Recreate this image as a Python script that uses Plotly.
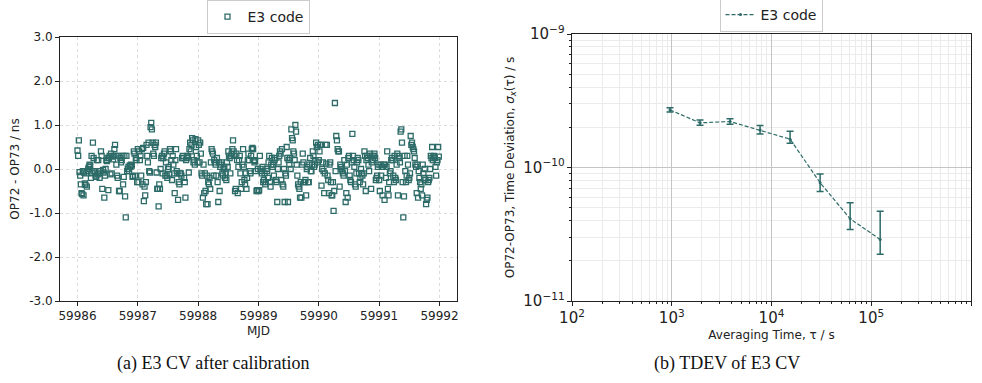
import plotly.graph_objects as go

# ---------------- data ----------------
days = [59986, 59987, 59988, 59989, 59990, 59991]
tracks_per_day = 90  # one CV track every 16 min

cv_day0 = [0.42, 0.30, 0.65, -0.07, -0.15, -0.35, -0.55, -0.57, -0.05, -0.60,
           -0.08, -0.33, -0.36, -0.10, -0.40, -0.05, 0.00, 0.05, 0.10, 0.08,
           -0.20, 0.30, -0.10, 0.60, 0.25, -0.05, -0.08, -0.15, -0.18, 0.20,
           -0.12, 0.20, -0.10, -0.20, -0.05, 0.40, 0.30, -0.45, -0.02, -0.08,
           -0.65, -0.15, 0.00, 0.20, 0.18, 0.25, -0.48, 0.25, 0.30, -0.12,
           0.35, -0.10, 0.28, 0.22, 0.30, 0.45, 0.55, 0.30, 0.10, -0.15,
           -0.20, 0.30, -0.50, -0.50, 0.25, 0.15, 0.20, 0.30, -0.35, -0.18,
           0.30, -0.62, -1.10, 0.30, -0.05, 0.00, 0.05, -0.05, 0.08, 0.05,
           0.10, 0.08, -0.18, -0.16, 0.40, 0.35, -0.15, 0.25, 0.20, -0.30]
cv_day1 = [0.45, -0.30, 0.40, 0.20, 0.30, -0.15, 0.45, -0.35, 0.48, -0.73,
           -0.40, -0.60, -0.30, 0.55, 0.30, 0.15, 0.60, -0.05, -0.08, 0.95,
           1.05, 0.90, 0.60, 0.35, 0.30, 0.55, 0.50, 0.60, -0.08, -0.45,
           -0.45, -0.85, -0.35, -0.45, 0.00, 0.25, 0.30, -0.10, 0.25, 0.35,
           0.40, -0.15, 0.15, -0.15, -0.20, 0.00, 0.05, -0.12, 0.45, 0.40,
           0.20, -0.25, 0.30, 0.10, -0.10, -0.55, 0.20, 0.45, -0.05, -0.10,
           -0.70, -0.30, -0.35, -0.10, -0.10, -0.15, 0.25, 0.30, 0.25, -0.20,
           -0.30, -0.65, 0.20, 0.25, 0.30, 0.28, -0.08, 0.45, 0.60, 0.40,
           0.55, 0.70, 0.65, 0.15, 0.20, 0.10, 0.68, 0.50, 0.30, 0.15]
cv_day2 = [0.65, 0.55, 0.15, 0.60, 0.35, -0.10, -0.15, -0.65, 0.10, -0.55,
           -0.10, -0.50, -0.80, -0.15, -0.80, -0.30, -0.35, -0.20, -0.45, 0.15,
           0.45, 0.40, 0.35, -0.15, 0.20, 0.15, 0.10, -0.15, 0.25, -0.30,
           -0.75, 0.15, -0.50, 0.05, 0.10, 0.15, -0.10, -0.15, 0.00, 0.05,
           -0.20, -0.10, -0.25, 0.15, 0.05, 0.40, 0.30, 0.25, -0.10, 0.30,
           0.35, 0.45, 0.65, 0.40, 0.30, -0.50, -0.45, 0.35, 0.20, -0.55,
           0.05, 0.20, 0.30, -0.10, -0.45, -0.30, 0.10, 0.45, 0.05, -0.25,
           -0.35, -0.10, -0.45, -0.20, 0.20, 0.35, 0.20, -0.05, -0.10, 0.30,
           0.45, 0.48, 0.45, 0.20, 0.15, 0.18, -0.05, -0.50, -0.48, 0.00]
cv_day3 = [-0.50, -0.48, 0.30, 0.00, -0.05, -0.10, 0.05, -0.30, -0.25, -0.10,
           -0.35, -0.30, 0.00, -0.05, -0.20, 0.15, 0.30, -0.30, -0.40, 0.10,
           0.25, 0.05, 0.10, -0.15, 0.20, 0.25, -0.25, -0.30, -0.75, 0.00,
           0.15, 0.30, 0.40, 0.35, -0.25, 0.45, -0.35, -0.40, 0.00, -0.75,
           -0.10, -0.15, 0.50, 0.25, -0.75, 0.20, 0.10, 0.25, 0.00, 0.90,
           0.70, 0.65, 0.40, 0.35, 0.20, 1.00, 0.85, 0.10, -0.15, -0.35,
           -0.40, -0.45, -0.65, -0.30, -0.65, 0.10, 0.35, 0.15, -0.30, -0.30,
           -0.25, -0.60, 0.00, 0.05, -0.30, -0.30, 0.10, 0.25, -0.05, -0.05,
           0.10, 0.40, 0.30, 0.05, 0.10, 0.20, 0.60, 0.50, 0.15, 0.55]
cv_day4 = [0.20, 0.40, 0.55, 0.55, -0.38, 0.00, 0.15, -0.05, -0.55, -0.10,
           0.55, 0.12, 0.55, -0.15, -0.25, -0.55, 0.10, 0.15, -0.30, -0.60,
           -0.60, -0.30, -0.95, -0.50, 1.50, -0.05, 0.75, 0.65, 0.45, 0.40,
           0.40, -0.40, 0.10, 0.05, 0.00, -0.05, -0.10, -0.15, 0.20, -0.05,
           -0.75, -0.55, 0.10, -0.65, 0.25, 0.30, -0.15, -0.25, -0.30, 0.15,
           0.80, 0.30, 0.20, 0.05, -0.35, -0.40, -0.10, 0.15, 0.25, 0.20,
           -0.10, -0.30, -0.20, 0.00, -0.10, -0.15, -0.35, -0.10, 0.40, 0.30,
           -0.50, 0.20, 0.30, 0.25, 0.10, -0.05, 0.35, 0.30, -0.45, 0.15,
           0.30, 0.20, 0.30, 0.35, 0.25, -0.25, -0.20, -0.15, 0.05, 0.10]
cv_day5 = [-0.25, -0.50, 0.10, -0.15, 0.05, -0.60, 0.05, 0.10, -0.70, 0.10,
           -0.20, 0.05, 0.40, -0.45, -0.60, -0.30, -0.10, -0.05, 0.20, 0.25,
           0.20, -0.15, -0.30, 0.30, -0.20, -0.25, 0.10, 0.35, -0.60, 0.30,
           0.25, 0.15, 0.85, 0.90, 0.60, -0.30, -1.10, -0.62, 0.30, -0.05,
           -0.30, -0.15, 0.30, 0.10, -0.25, -0.20, -0.10, 0.75, 0.55, 0.60,
           0.50, 0.45, 0.40, 0.25, 0.10, 0.05, -0.55, 0.10, -0.65, -0.05,
           -0.20, -0.30, -0.45, -0.35, -0.60, 0.10, -0.10, -0.20, 0.00, -0.25,
           -0.80, -0.70, -0.65, -0.30, -0.25, -0.20, 0.00, 0.30, 0.25, 0.50,
           0.20, 0.28, 0.30, 0.25, 0.05, -0.15, 0.15, 0.20, 0.50, 0.28]
cv_by_day = [cv_day0, cv_day1, cv_day2, cv_day3, cv_day4, cv_day5]

mjd_ticks = [59986, 59987, 59988, 59989, 59990, 59991, 59992]
ns_ticks = [-3.0, -2.0, -1.0, 0.0, 1.0, 2.0, 3.0]
ns_tick_labels = ["-3.0", "-2.0", "-1.0", "0.0", "1.0", "2.0", "3.0"]

tau_s = [960, 1920, 3840, 7680, 15360, 30720, 61440, 122880]
tdev_s = [2.70e-10, 2.16e-10, 2.21e-10, 1.91e-10, 1.63e-10, 7.69e-11, 4.13e-11, 2.89e-11]
tdev_hi = [2.80e-10, 2.27e-10, 2.32e-10, 2.06e-10, 1.87e-10, 8.93e-11, 5.45e-11, 4.71e-11]
tdev_lo = [2.60e-10, 2.07e-10, 2.11e-10, 1.78e-10, 1.52e-10, 6.62e-11, 3.43e-11, 2.24e-11]

# ---------------- build ----------------
mjd, cv = [], []
for d, vals in zip(days, cv_by_day):
    for i, v in enumerate(vals):
        mjd.append(d + i / tracks_per_day)
        cv.append(v)

teal = "#2d6b68"
FONT = "DejaVu Sans"

fig = go.Figure()
fig.add_trace(go.Scatter(
    x=mjd, y=cv, mode="markers", name="E3 code",
    marker=dict(symbol="square-open", size=5, color=teal, line=dict(width=1.3, color=teal)),
    xaxis="x", yaxis="y", legend="legend", showlegend=True))

fig.add_trace(go.Scatter(
    x=tau_s, y=tdev_s, mode="lines+markers", name="E3 code",
    line=dict(color=teal, width=1.2, dash="4px,2px"),
    marker=dict(size=3, color=teal),
    error_y=dict(type="data", symmetric=False,
                 array=[h - v for h, v in zip(tdev_hi, tdev_s)],
                 arrayminus=[v - l for l, v in zip(tdev_lo, tdev_s)],
                 color=teal, thickness=1.5, width=3.5),
    xaxis="x2", yaxis="y2", legend="legend2", showlegend=True))

W, H = 982, 383
def px_x(p): return p / W
def px_y(p): return (H - p) / H

axis_common = dict(showline=True, mirror=True, linecolor="#222", linewidth=1,
                   ticks="outside", ticklen=4, tickcolor="#222", automargin=False,
                   tickfont=dict(family=FONT, size=12, color="#222"), zeroline=False)
title_font = dict(family=FONT, size=12, color="#222")

fig.update_layout(
    width=W, height=H, margin=dict(l=0, r=0, t=0, b=0, autoexpand=False),
    paper_bgcolor="white", plot_bgcolor="white",
    font=dict(family=FONT, color="#222"),
    xaxis=dict(domain=[px_x(60), px_x(457)], range=[59985.71, 59992.29],
               tickvals=mjd_ticks, tickformat="d",
               showgrid=True, gridcolor="#dcdcdc", griddash="dot", gridwidth=1,
               title=dict(text="MJD", font=title_font, standoff=4),
               anchor="y", **axis_common),
    yaxis=dict(domain=[px_y(301), px_y(37)], range=[-3, 3],
               tickvals=ns_ticks, ticktext=ns_tick_labels,
               showgrid=True, gridcolor="#dcdcdc", griddash="dot", gridwidth=1,
               title=dict(text="OP72 - OP73 / ns", font=title_font, standoff=6),
               anchor="x", **axis_common),
    xaxis2=dict(domain=[px_x(572), px_x(971)], type="log", range=[2, 6], dtick=1,
                exponentformat="power", showexponent="all",
                showgrid=True, gridcolor="#c4c4c4", gridwidth=1,
                minor=dict(showgrid=True, gridcolor="#ebebeb",
                           ticks="outside", ticklen=2, tickcolor="#222"),
                title=dict(text="Averaging Time, τ / s", font=title_font, standoff=4),
                anchor="y2", **axis_common),
    yaxis2=dict(domain=[px_y(301), px_y(34)], type="log", range=[-11, -9], dtick=1,
                exponentformat="power", showexponent="all",
                showgrid=True, gridcolor="#c4c4c4", gridwidth=1,
                minor=dict(showgrid=True, gridcolor="#ebebeb",
                           ticks="outside", ticklen=2, tickcolor="#222"),
                title=dict(text="OP72-OP73, Time Deviation, <i>σ<sub>x</sub></i>(τ) / s",
                           font=title_font, standoff=6),
                anchor="x2", **axis_common),
    legend=dict(x=px_x(258), y=px_y(17), xanchor="center", yanchor="middle",
                bgcolor="white", bordercolor="#cccccc", borderwidth=1,
                font=dict(family=FONT, size=14, color="#222"), itemwidth=30),
    legend2=dict(x=px_x(771), y=px_y(15), xanchor="center", yanchor="middle",
                 bgcolor="white", bordercolor="#cccccc", borderwidth=1,
                 font=dict(family=FONT, size=14, color="#222"), itemwidth=30),
    annotations=[
        dict(text="(a) E3 CV after calibration", x=px_x(213), y=px_y(363),
             xanchor="center", yanchor="middle",
             xref="paper", yref="paper", showarrow=False,
             font=dict(family="Liberation Serif", size=18, color="#111")),
        dict(text="(b) TDEV of E3 CV", x=px_x(727), y=px_y(363),
             xanchor="center", yanchor="middle",
             xref="paper", yref="paper", showarrow=False,
             font=dict(family="Liberation Serif", size=18, color="#111")),
    ],
)

fig.write_html("out.html")
